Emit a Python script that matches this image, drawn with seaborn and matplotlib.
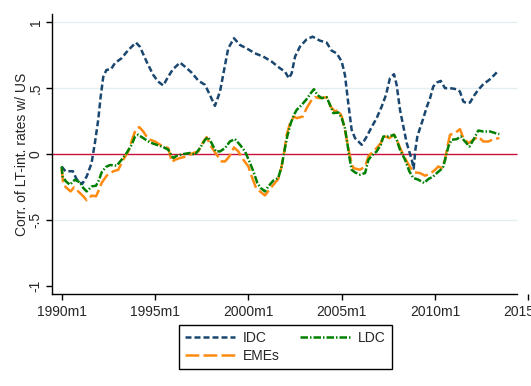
import numpy as np
import pandas as pd
import seaborn as sns
import matplotlib
matplotlib.use("Agg")
import matplotlib.pyplot as plt

# series (decimal year, correlation)
idc_x = [1990.0, 1990.2, 1990.6, 1990.8, 1991.1, 1991.34, 1991.6, 1991.78, 1991.96, 1992.09,
         1992.23, 1992.4, 1992.64, 1992.85, 1993.21, 1993.57, 1993.98, 1994.19, 1994.55, 1994.9,
         1995.17, 1995.44, 1995.71, 1995.95, 1996.34, 1996.6, 1996.96, 1997.32, 1997.68, 1997.91,
         1998.21, 1998.48, 1998.7, 1998.92, 1999.23, 1999.55, 1999.91, 2000.35, 2000.8, 2001.25,
         2001.69, 2001.96, 2002.17, 2002.32, 2002.5, 2002.76, 2003.12, 2003.44, 2003.83, 2004.19,
         2004.46, 2004.73, 2005.0, 2005.17, 2005.35, 2005.53, 2005.71, 2006.07, 2006.34, 2006.6,
         2006.87, 2007.14, 2007.37, 2007.58, 2007.8, 2007.94, 2008.12, 2008.3, 2008.48, 2008.75,
         2008.85, 2008.95, 2009.05, 2009.19, 2009.37, 2009.55, 2009.73, 2009.9, 2010.09, 2010.3,
         2010.53, 2010.8, 2011.16, 2011.33, 2011.51, 2011.69, 2011.87, 2012.08, 2012.31, 2012.58,
         2012.9, 2013.12, 2013.38]
idc_y = [-0.094, -0.13, -0.13, -0.19, -0.227, -0.17, -0.07, 0.083, 0.26, 0.435,
         0.586, 0.637, 0.642, 0.688, 0.726, 0.788, 0.844, 0.813, 0.70, 0.60,
         0.549, 0.519, 0.587, 0.64, 0.693, 0.662, 0.617, 0.556, 0.524, 0.456,
         0.365, 0.473, 0.637, 0.80, 0.877, 0.826, 0.80, 0.763, 0.738, 0.70,
         0.65, 0.624, 0.574, 0.612, 0.738, 0.813, 0.869, 0.889, 0.859, 0.844,
         0.783, 0.763, 0.70, 0.60, 0.385, 0.184, 0.121, 0.07, 0.133, 0.204,
         0.272, 0.36, 0.448, 0.574, 0.605, 0.524, 0.335, 0.209, 0.083, -0.043,
         -0.11, 0.04, 0.133, 0.196, 0.272, 0.355, 0.423, 0.511, 0.541, 0.554,
         0.499, 0.499, 0.491, 0.473, 0.398, 0.385, 0.39, 0.441, 0.486, 0.529,
         0.562, 0.592, 0.63]

ldc_x = [1990.0, 1990.05, 1990.23, 1990.44, 1990.71, 1990.98, 1991.16, 1991.34, 1991.61, 1991.84,
         1992.01, 1992.14, 1992.37, 1992.59, 1992.95, 1993.21, 1993.48, 1993.75, 1993.93, 1994.1,
         1994.37, 1994.73, 1995.09, 1995.44, 1995.71, 1995.89, 1995.98, 1996.16, 1996.52, 1996.87,
         1997.14, 1997.41, 1997.68, 1997.85, 1998.03, 1998.26, 1998.48, 1998.75, 1999.01, 1999.28,
         1999.55, 1999.82, 2000.09, 2000.3, 2000.48, 2000.66, 2000.89, 2001.07, 2001.33, 2001.6,
         2001.78, 2001.91, 2002.08, 2002.27, 2002.44, 2002.59, 2002.86, 2003.12, 2003.34, 2003.51,
         2003.69, 2003.93, 2004.19, 2004.37, 2004.55, 2004.82, 2005.0, 2005.17, 2005.3, 2005.4,
         2005.53, 2005.71, 2005.98, 2006.25, 2006.43, 2006.6, 2006.87, 2007.09, 2007.23, 2007.5,
         2007.8, 2007.94, 2008.12, 2008.39, 2008.62, 2008.83, 2009.1, 2009.41, 2009.64, 2009.9,
         2010.09, 2010.3, 2010.44, 2010.58, 2010.71, 2010.89, 2011.16, 2011.37, 2011.55, 2011.84,
         2012.05, 2012.31, 2012.58, 2012.94, 2013.21, 2013.44]
ldc_y = [-0.094, -0.17, -0.207, -0.232, -0.194, -0.215, -0.257, -0.283, -0.245, -0.24,
         -0.194, -0.139, -0.098, -0.083, -0.088, -0.043, 0.008, 0.07, 0.133, 0.146,
         0.121, 0.088, 0.07, 0.053, 0.033, -0.013, -0.03, -0.013, 0.0, 0.008,
         -0.005, 0.045, 0.108, 0.128, 0.083, 0.02, 0.02, 0.045, 0.095, 0.113,
         0.07, 0.02, -0.068, -0.144, -0.219, -0.257, -0.283, -0.245, -0.202, -0.181,
         -0.094, 0.008, 0.133, 0.234, 0.297, 0.335, 0.373, 0.416, 0.461, 0.491,
         0.448, 0.423, 0.431, 0.373, 0.31, 0.315, 0.272, 0.196, 0.083, -0.018,
         -0.119, -0.139, -0.156, -0.144, -0.043, -0.013, 0.02, 0.07, 0.133, 0.133,
         0.146, 0.108, 0.033, -0.043, -0.131, -0.181, -0.194, -0.219, -0.189, -0.17,
         -0.144, -0.119, -0.094, -0.018, 0.057, 0.108, 0.113, 0.133, 0.103, 0.057,
         0.108, 0.178, 0.171, 0.171, 0.159, 0.151]

eme_x = [1990.0, 1990.09, 1990.27, 1990.48, 1990.66, 1990.89, 1991.16, 1991.34, 1991.61, 1991.84,
         1991.96, 1992.14, 1992.41, 1992.76, 1993.03, 1993.3, 1993.57, 1993.8, 1993.98, 1994.16,
         1994.37, 1994.64, 1995.0, 1995.36, 1995.71, 1995.9, 1996.07, 1996.34, 1996.7, 1997.05,
         1997.32, 1997.59, 1997.77, 1997.98, 1998.3, 1998.57, 1998.75, 1998.98, 1999.23, 1999.46,
         1999.73, 2000.0, 2000.18, 2000.41, 2000.62, 2000.89, 2001.12, 2001.42, 2001.6, 2001.78,
         2001.91, 2002.05, 2002.23, 2002.44, 2002.59, 2002.91, 2003.12, 2003.39, 2003.57, 2003.83,
         2004.19, 2004.4, 2004.64, 2004.82, 2005.0, 2005.17, 2005.3, 2005.44, 2005.62, 2005.98,
         2006.25, 2006.43, 2006.6, 2006.87, 2007.09, 2007.23, 2007.55, 2007.8, 2007.98, 2008.21,
         2008.48, 2008.75, 2008.92, 2009.19, 2009.46, 2009.73, 2010.0, 2010.17, 2010.35, 2010.53,
         2010.66, 2010.8, 2011.07, 2011.33, 2011.51, 2011.78, 2012.05, 2012.31, 2012.58, 2012.85,
         2013.12, 2013.44]
eme_y = [-0.11, -0.232, -0.257, -0.283, -0.252, -0.283, -0.32, -0.35, -0.315, -0.32,
         -0.283, -0.219, -0.164, -0.131, -0.119, -0.043, 0.02, 0.121, 0.189, 0.204,
         0.171, 0.113, 0.095, 0.063, 0.045, -0.06, -0.043, -0.03, -0.018, 0.008,
         0.02, 0.095, 0.128, 0.063, -0.005, -0.056, -0.056, -0.018, 0.05, 0.02,
         -0.043, -0.094, -0.17, -0.257, -0.283, -0.313, -0.27, -0.219, -0.189, -0.094,
         0.008, 0.146, 0.234, 0.284, 0.272, 0.284, 0.348, 0.41, 0.431, 0.423,
         0.431, 0.36, 0.322, 0.335, 0.284, 0.184, 0.083, -0.018, -0.106, -0.119,
         -0.094, -0.018, 0.008, 0.045, 0.083, 0.138, 0.121, 0.146, 0.095, 0.02,
         -0.056, -0.119, -0.139, -0.144, -0.164, -0.149, -0.119, -0.094, -0.106, -0.043,
         0.057, 0.146, 0.159, 0.189, 0.121, 0.083, 0.108, 0.133, 0.095, 0.095,
         0.113, 0.121]

x_ticks = [1990, 1995, 2000, 2005, 2010, 2015]
x_labels = ["1990m1", "1995m1", "2000m1", "2005m1", "2010m1", "2015m1"]
y_ticks = [-1, -0.5, 0, 0.5, 1]
y_labels = ["-1", "-.5", "0", ".5", "1"]

sns.set_style("white")
plt.rcParams["font.family"] = ["Liberation Sans", "DejaVu Sans"]
plt.rcParams["font.size"] = 10

fig = plt.figure(figsize=(5.31, 3.86), dpi=100)
ax = fig.add_axes([0.0985, 0.2383, 0.8985, 0.7252])

x_end = 2014.37
# gridlines and zero line
ax.hlines([-0.5, 0.5, 1], 1989.5, x_end, color="#e4eef0", lw=1.0, zorder=0)
ax.hlines(0, 1989.5, x_end, color="#c8103a", lw=1.0, zorder=1)

df_idc = pd.DataFrame({"t": idc_x, "v": idc_y})
df_eme = pd.DataFrame({"t": eme_x, "v": eme_y})
df_ldc = pd.DataFrame({"t": ldc_x, "v": ldc_y})

sns.lineplot(data=df_idc, x="t", y="v", ax=ax, color="#1a476f", lw=1.8,
             linestyle=(0, (2.4, 1.2)), label="IDC", zorder=3)
sns.lineplot(data=df_eme, x="t", y="v", ax=ax, color="#ff8a10", lw=1.8,
             linestyle=(0, (5.5, 1.7)), label="EMEs", zorder=3)
sns.lineplot(data=df_ldc, x="t", y="v", ax=ax, color="#008000", lw=1.8,
             linestyle=(0, (3.0, 0.8, 0.6, 0.8)), label="LDC", zorder=4)

ax.set_xlim(1989.5, 2015.05)
ax.set_ylim(-1.06, 1.06)
ax.set_xticks(x_ticks)
ax.set_xticklabels(x_labels)
ax.set_yticks(y_ticks)
ax.set_yticklabels(y_labels, rotation=90, va="center")
ax.set_xlabel("")
ax.set_ylabel("Corr. of LT-int. rates w/ US", labelpad=0)

for s in ["top", "right"]:
    ax.spines[s].set_visible(False)
for s in ["left", "bottom"]:
    ax.spines[s].set_color("black")
    ax.spines[s].set_linewidth(1.0)
ax.spines["bottom"].set_bounds(1989.5, x_end)
ax.tick_params(axis="both", direction="out", length=4, width=1.0, color="black",
               labelsize=10, left=True, bottom=True)
ax.tick_params(axis="x", pad=4)
ax.tick_params(axis="y", pad=3)
ax.grid(False)

handles, labels = ax.get_legend_handles_labels()
ax.get_legend().remove()
leg = fig.legend(handles, labels, loc="center", bbox_to_anchor=(285.3 / 531, 1 - 347 / 386),
                 ncol=2, frameon=True, fancybox=False, framealpha=1, edgecolor="black",
                 handlelength=3.6, handletextpad=0.55, columnspacing=1.5,
                 labelspacing=0.3, borderpad=0.45, fontsize=10)
leg.get_frame().set_linewidth(1.0)

fig.savefig("out.png", dpi=100)
